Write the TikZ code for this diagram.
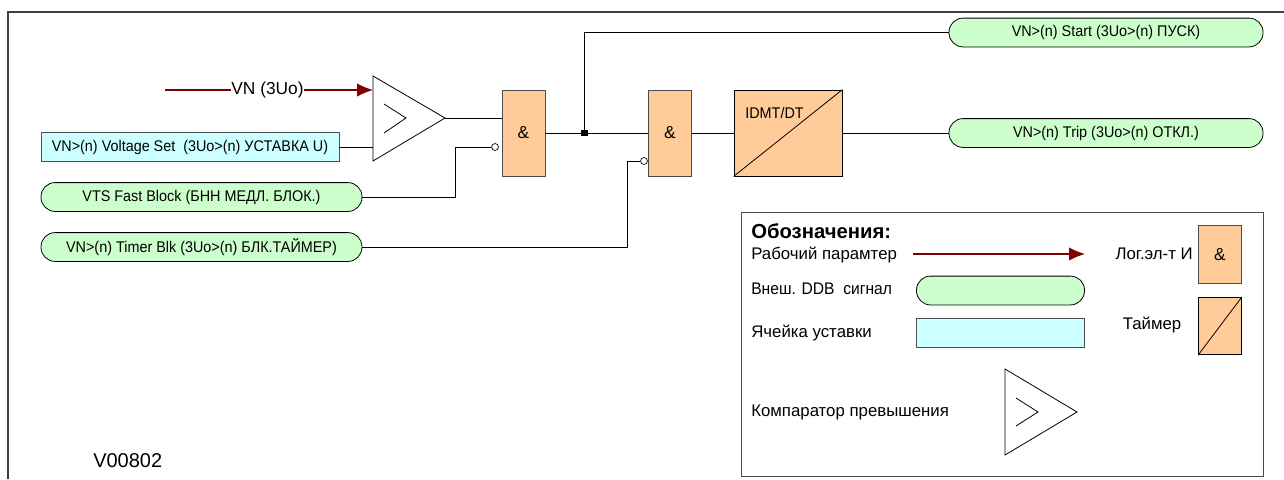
\documentclass[tikz,border=0pt]{standalone}
\usepackage{fontspec}
\setmainfont{Liberation Sans}
\newfontfamily\condf[FakeStretch=0.93]{Liberation Sans}
\usetikzlibrary{arrows.meta}
\definecolor{pillc}{HTML}{CCFFCC}
\definecolor{cellc}{HTML}{CCFFFF}
\definecolor{gatec}{HTML}{FFCC99}
\definecolor{arrc}{HTML}{800000}
\tikzset{
 x=0.75pt,y=-0.75pt,
 txt/.style={inner sep=0pt,font=\fontsize{12.6pt}{14pt}\selectfont,text=black},
 boxfont/.style={font=\condf\fontsize{11.6pt}{13pt}\selectfont},
 pill/.style={draw=black,line width=0.6pt,fill=pillc,rounded corners=10.5pt,minimum height=21.6pt,inner sep=0pt,boxfont},
 cell/.style={draw=black!70,line width=0.6pt,fill=cellc,minimum height=21.6pt,inner sep=0pt,boxfont},
 gate/.style={draw=black!70,line width=0.6pt,fill=gatec,minimum width=32.2pt,minimum height=64.5pt,inner sep=0pt,font=\fontsize{13pt}{15pt}\selectfont},
 wire/.style={draw=black,line width=0.6pt},
 param/.style={draw=arrc,line width=0.9pt,-{Latex[length=12pt,width=10pt,color=arrc]}},
 neg/.style={circle,draw=black,line width=0.5pt,fill=white,minimum size=5.2pt,inner sep=0pt},
 dot/.style={rectangle,fill=black,minimum size=5pt,inner sep=0pt},
 frameln/.style={draw=black!75,line width=1.1pt},
}
\begin{document}
\begin{tikzpicture}
\useasboundingbox (0,0) rectangle (1284,479);
\fill[white] (0,0) rectangle (1284,479);
% frame
\draw[frameln] (8,479) -- (8,12) -- (1284,12);
% comparator
\coordinate (vnstart) at (165,90);
\coordinate (cmpin) at (373,90);
\coordinate (cmpset) at (373,147);
\coordinate (cmpout) at (445,118);
\path[draw=black,line width=0.6pt,fill=white] (373,76) -- (445,118) -- (373,161) -- cycle;
\draw[line width=0.6pt] (384,104) -- (406,118) -- (384,133);
\draw[param] (vnstart) -- (cmpin);
\node[txt,fill=white,inner xsep=0.5pt,font=\fontsize{13pt}{15pt}\selectfont] (vn) at (267.5,90) {VN (3Uo)};
% left inputs
\node[cell,minimum width=223.5pt] (set) at (190,147) {VN>(n) Voltage Set\ \ (3Uo>(n) УСТАВКА U)};
\node[pill,minimum width=240.7pt] (vts) at (201.5,197) {VTS Fast Block (БНН МЕДЛ. БЛОК.)};
\node[pill,minimum width=240.7pt] (tmr) at (201.5,247) {VN>(n) Timer Blk (3Uo>(n) БЛК.ТАЙМЕР)};
% gates
\node[gate] (and1) at (523.5,133) {\&};
\node[gate] (and2) at (670,133) {\&};
\node[gate,draw=black,minimum width=81pt] (idmt) at (788,133) {};
\draw[line width=0.6pt] (idmt.south west) -- (idmt.north east);
\node[txt,boxfont] (idmtl) at (774.5,113) {IDMT/DT};
% outputs
\node[pill,minimum width=235.5pt] (start) at (1106,32.5) {VN>(n) Start (3Uo>(n) ПУСК)};
\node[pill,minimum width=235.5pt] (trip) at (1106,133) {VN>(n) Trip (3Uo>(n) ОТКЛ.)};
% wiring
\node[neg] (n1) at (495,147) {};
\node[neg] (n2) at (644,161) {};
\node[dot] (j) at (584.5,133) {};
\draw[wire] (set.east) -- (cmpset);
\draw[wire] (cmpout) -- (cmpout -| and1.west);
\draw[wire] (vts.east) -| (455,147) -- (n1.west);
\draw[wire] (tmr.east) -| (627,161) -- (n2.west);
\draw[wire] (and1.east) -- (and2.west);
\draw[wire] (j.center) |- (start.west);
\draw[wire] (and2.east) -- (idmt.west);
\draw[wire] (idmt.east) -- (trip.west);
% legend
\node[draw=black!70,line width=0.7pt,fill=white,minimum width=391.5pt,minimum height=198pt,inner sep=0pt] (leg) at (1002,344) {};
\node[txt,anchor=west,font=\fontsize{15.2pt}{17pt}\selectfont\bfseries] (l0) at (751,231) {Обозначения:};
\node[txt,anchor=west] (l1) at (751,255) {Рабочий парамтер};
\node[txt,anchor=west,font=\condf\fontsize{12.6pt}{14pt}\selectfont] (l2) at (751,289) {Внеш. DDB\ \ сигнал};
\node[txt,anchor=west] (l3) at (751,333) {Ячейка уставки};
\node[txt,anchor=west] (l4) at (751,412) {Компаратор превышения};
\coordinate (la) at (913,254);
\coordinate (lb) at (1085,254);
\draw[param] (la) -- (lb);
\node[pill,minimum width=126pt] (lp) at (1000.5,290.5) {};
\node[cell,minimum width=126pt] (lc) at (1000.5,333) {};
\path[draw=black,line width=0.6pt,fill=white] (1005,369) -- (1077,412) -- (1005,455) -- cycle;
\draw[line width=0.6pt] (1016,398) -- (1038,412) -- (1016,426);
\node[txt,anchor=east] (l5) at (1193,254) {Лог.эл-т И};
\node[txt] (l6) at (1152,325) {Таймер};
\node[gate,minimum height=43pt] (la1) at (1220,254.5) {\&};
\node[gate,draw=black,minimum height=43pt] (la2) at (1220,326) {};
\draw[line width=0.6pt] (la2.south west) -- (la2.north east);
\node[txt,anchor=west,font=\fontsize{15pt}{17pt}\selectfont] (v) at (93,461) {V00802};
\end{tikzpicture}
\end{document}
